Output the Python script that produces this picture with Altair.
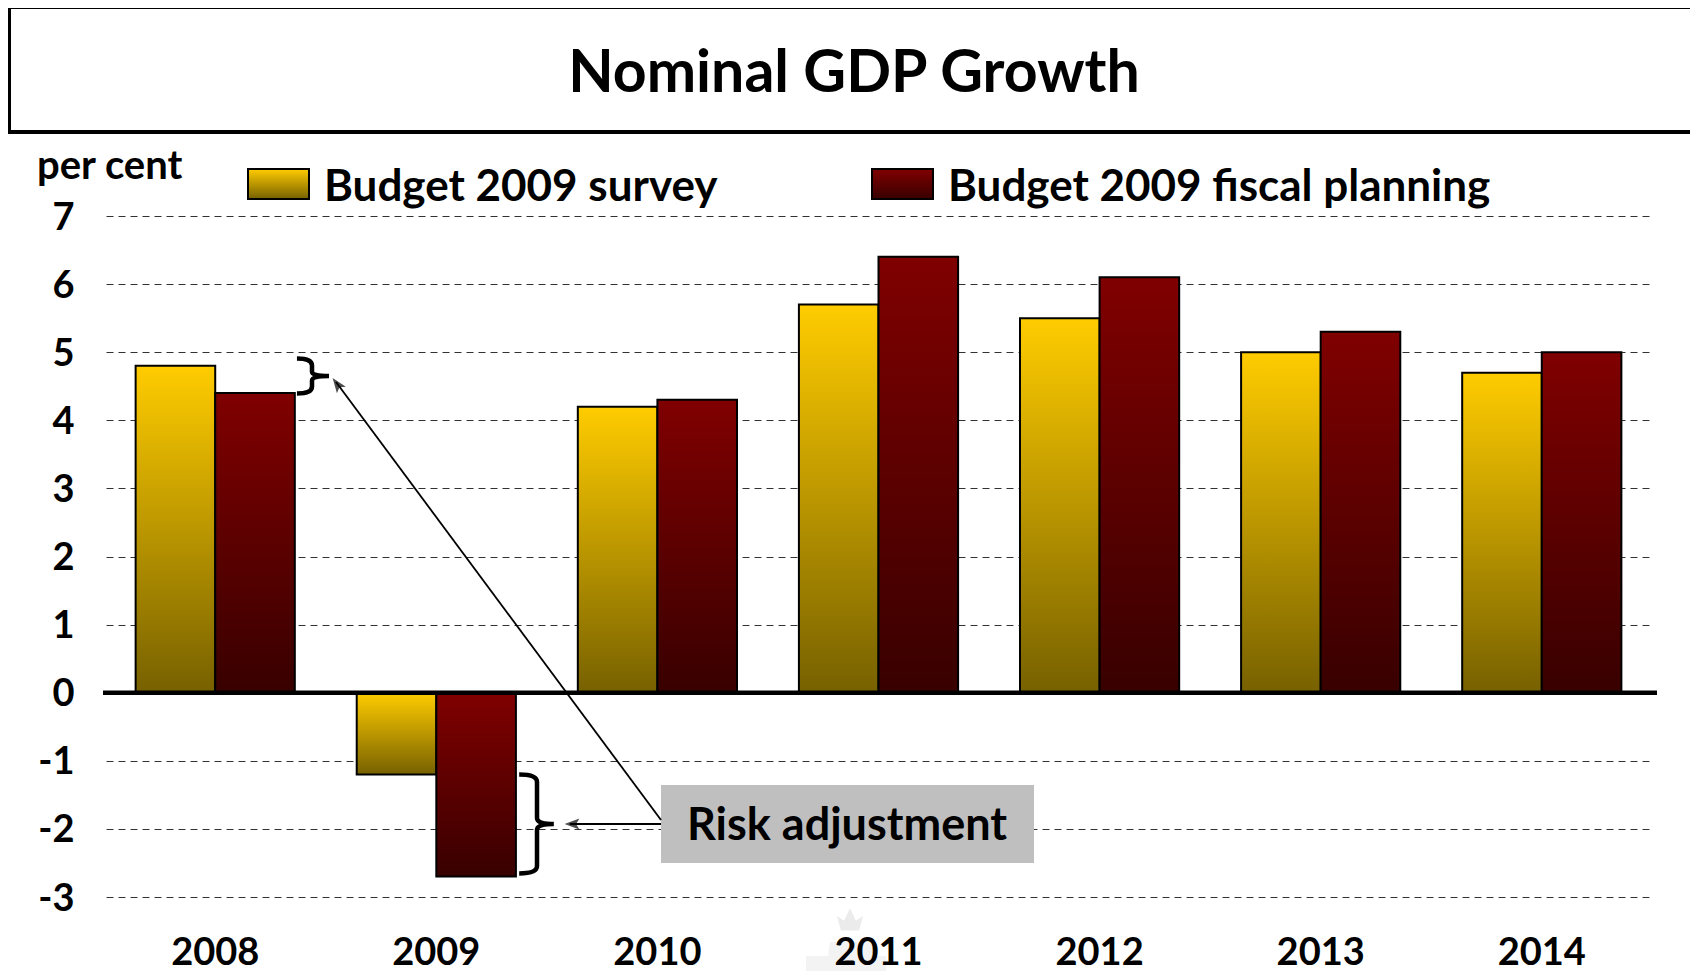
import altair as alt
import pandas as pd

years = ["2008", "2009", "2010", "2011", "2012", "2013", "2014"]
survey = [4.8, -1.2, 4.2, 5.7, 5.5, 5.0, 4.7]
planning = [4.4, -2.7, 4.3, 6.4, 6.1, 5.3, 5.0]
S1, S2 = "Budget 2009 survey", "Budget 2009 fiscal planning"
ticks = [-3, -2, -1, 0, 1, 2, 3, 4, 5, 6, 7]
FONT = "Lato"

df = pd.DataFrame({
    "year": years * 2,
    "series": [S1] * 7 + [S2] * 7,
    "value": survey + planning,
})
one = pd.DataFrame({"a": [0]})

def grad(top, bottom):
    return alt.Gradient(gradient="linear", x1=0, x2=0, y1=0, y2=1,
                        stops=[alt.GradientStop(color=top, offset=0),
                               alt.GradientStop(color=bottom, offset=1)])

YEL = grad("#FFCC00", "#776100")
RED = grad("#800000", "#380000")

X = alt.X("year:N", sort=years, title=None,
          scale=alt.Scale(paddingInner=0.28, paddingOuter=0.134, range=[1, 1546]),
          axis=alt.Axis(domain=False, ticks=False, labelAngle=0, labelFont=FONT,
                        labelFontWeight="bold", labelFontSize=38, labelColor="black",
                        labelPadding=56, labelBaseline="middle", grid=False, zindex=1))
Y = alt.Y("value:Q", title=None, scale=alt.Scale(domain=[-3, 7], nice=False, zero=False),
          axis=alt.Axis(values=ticks, domain=False, ticks=False, labelFont=FONT,
                        labelFontWeight="bold", labelFontSize=38, labelColor="black",
                        labelPadding=31, labelOffset=2, labelExpr="'' + datum.value",
                        grid=True, gridColor="#333333", gridWidth=1, gridDash=[7, 5]))
XO = alt.XOffset("series:N", sort=[S1, S2],
                 scale=alt.Scale(domain=[S1, S2], paddingInner=0, paddingOuter=0))

def bars(name, fill):
    return (alt.Chart(df).transform_filter(alt.datum.series == name)
            .mark_bar(fill=fill, stroke="black", strokeWidth=2)
            .encode(x=X, y=Y, xOffset=XO, y2=alt.datum(0)))

OX, OY = 105, 216   # page position of the plot origin

def px(v): return alt.value(v - OX)
def py(v): return alt.value(v - OY)

def text(s, x, y, size, align="left", color="black", font=FONT, weight="bold"):
    return alt.Chart(one).mark_text(text=s, font=font, fontWeight=weight, fontSize=size,
                                    color=color, align=align, baseline="middle").encode(
        x=px(x), y=py(y))

def box(x0, y0, x1, y1, **kw):
    return alt.Chart(one).mark_rect(**kw).encode(x=px(x0), x2=px(x1), y=py(y0), y2=py(y1))

def line(x0, y0, x1, y1, w):
    return alt.Chart(one).mark_rule(color="black", strokeWidth=w).encode(
        x=px(x0), x2=px(x1), y=py(y0), y2=py(y1))

def shape(path, x, y, size, **kw):
    return alt.Chart(one).mark_point(shape=path, size=size, **kw).encode(x=px(x), y=py(y))

ARROW = "M0,-1 L0.75,1 L0,0.55 L-0.75,1 Z"
BIG = "M-0.36,-1 Q0,-1 0,-0.85 L0,-0.12 Q0,0 0.34,0 Q0,0 0,0.12 L0,0.85 Q0,1 -0.36,1"
SMALL = "M-0.86,-1 Q0,-1 0,-0.6 L0,-0.25 Q0,0 0.97,0 Q0,0 0,0.25 L0,0.6 Q0,1 -0.86,1"
CROWN = "M-0.7,0.8 L-1,-0.3 L-0.45,0.05 L0,-0.9 L0.45,0.05 L1,-0.3 L0.7,0.8 Z"
CREST = "M-1.05,0.6 L-1.05,-0.05 L-0.5,-0.05 L-0.45,-0.4 L0.6,-0.4 L0.65,-0.05 L0.95,-0.05 L0.95,0.6 Z"

zero = alt.Chart(one).mark_rule(color="black", strokeWidth=4.5).encode(
    y=alt.datum(0), x=px(103), x2=px(1657))

chart = alt.layer(
    bars(S1, YEL),
    bars(S2, RED),
    zero,
    box(661, 785, 1034, 863, fill="#BFBFBF"),
    text("Risk adjustment", 847, 826, 45, "center"),
    line(661, 820, 336, 382, 1.8),
    line(661, 824, 570, 824, 2.2),
    shape(ARROW, 337, 384, 220, filled=True, color="black", angle=323.5),
    shape(ARROW, 572, 824, 220, filled=True, color="black", angle=270),
    shape(BIG, 537, 824, 9800, filled=False, color="black", strokeWidth=4.5, opacity=1),
    shape(SMALL, 312, 376, 1225, filled=False, color="black", strokeWidth=4.5, opacity=1),
    shape(CROWN, 850, 920, 676, filled=True, color="#EBEBEB", opacity=1),
    shape(CREST, 848, 958, 6400, filled=True, color="#F3F3F3", opacity=1),
    box(9, 7, 1720, 132, fill="white", stroke="black", strokeWidth=4),
    text("Nominal GDP Growth", 854, 74, 59, "center"),
    text("per cent", 37, 167, 40),
    box(248, 169, 309, 199, fill=YEL, stroke="black", strokeWidth=2),
    text(S1, 324, 188, 44),
    box(872, 169, 933, 199, fill=RED, stroke="black", strokeWidth=2),
    text(S2, 948, 188, 44),
).resolve_scale(x="shared", y="shared").properties(
    width=1545, height=681,
    autosize=alt.AutoSizeParams(type="none"),
    padding={"left": OX - 8, "top": OY - 8, "right": 40, "bottom": 74},
    background="white",
).configure_view(stroke=None)

chart.save("out.html", embed_options={"renderer": "svg", "actions": False})
